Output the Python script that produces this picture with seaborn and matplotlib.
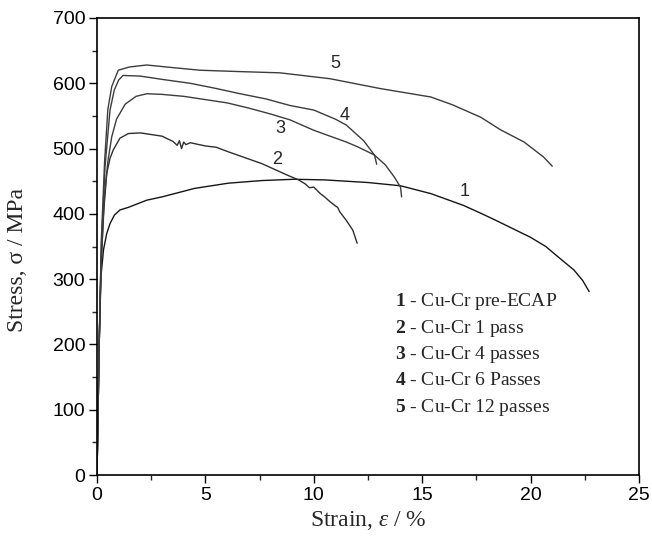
import numpy as np
import pandas as pd
import matplotlib
matplotlib.use("Agg")
import matplotlib.pyplot as plt
import seaborn as sns

# ---- data ----
strain_1 = [0, 0.1, 0.17, 0.3, 0.45, 0.6, 0.8, 1.06, 1.45, 2.3, 3.0, 4.5, 6.06, 7.6, 9.1,
            10.5, 11.5, 12.5, 14.0, 15.4, 16.9, 17.7, 18.4, 19.2, 20.0, 20.7, 21.2, 22.0, 22.4, 22.7]
stress_1 = [0, 200, 300, 345, 370, 385, 398, 406, 410, 421, 426, 439, 447, 451, 453,
            452, 450, 448, 443, 431, 413, 401, 390, 377, 364, 350, 336, 314, 298, 281]

strain_2 = [0, 0.1, 0.2, 0.3, 0.45, 0.6, 0.75, 1.06, 1.45, 2.0, 3.0, 3.5, 3.7, 3.8, 3.9, 4.0,
            4.1, 4.3, 5.0, 5.5, 6.06, 7.0, 7.6, 8.2, 8.8, 9.3, 9.6, 9.8, 10.0, 10.3, 10.5,
            10.7, 11.0, 11.1, 11.2, 11.5, 11.8, 12.0]
stress_2 = [0, 200, 330, 400, 462, 485, 498, 516, 523, 524, 519, 511, 505, 512, 500, 510,
            506, 509, 504, 502, 495, 484, 477, 468, 459, 452, 446, 440, 441, 431, 426,
            420, 412, 410, 403, 390, 375, 355]

strain_3 = [0, 0.1, 0.2, 0.35, 0.5, 0.68, 0.9, 1.3, 1.8, 2.3, 3.0, 4.0, 5.0, 6.0, 7.0, 8.0,
            8.9, 10.0, 11.0, 11.5, 12.0, 12.5, 12.8, 12.9]
stress_3 = [0, 200, 330, 430, 480, 518, 545, 568, 580, 584, 583, 580, 575, 570, 562, 553,
            544, 528, 516, 510, 503, 495, 490, 476]

strain_4 = [0, 0.1, 0.2, 0.37, 0.6, 0.8, 1.0, 1.2, 2.0, 3.0, 4.3, 5.5, 6.6, 7.8, 8.9, 10.0,
            11.0, 11.5, 12.3, 12.8, 13.3, 13.7, 14.0, 14.05]
stress_4 = [0, 200, 350, 472, 559, 590, 605, 612, 611, 606, 600, 592, 584, 576, 566, 559,
            545, 536, 512, 490, 475, 457, 441, 426]

strain_5 = [0, 0.1, 0.2, 0.35, 0.5, 0.68, 0.98, 1.5, 2.29, 3.5, 4.75, 6.5, 8.44, 10.75,
            13.05, 15.4, 16.4, 17.7, 18.6, 19.7, 20.6, 21.0]
stress_5 = [0, 200, 360, 480, 560, 595, 620, 625, 628, 624, 620, 618, 616, 607,
            592, 579, 567, 548, 529, 510, 487, 473]

curve_ids = ["1", "2", "3", "4", "5"]
curve_names = ["Cu-Cr pre-ECAP", "Cu-Cr 1 pass", "Cu-Cr 4 passes", "Cu-Cr 6 Passes", "Cu-Cr 12 passes"]
label_x = [16.97, 8.29, 8.47, 11.4, 11.0]
label_y = [434, 484, 531, 550, 630]

x_ticks = [0, 5, 10, 15, 20, 25]
y_ticks = [0, 100, 200, 300, 400, 500, 600, 700]

# ---- styling ----
sns.set_theme(style="ticks")
plt.rcParams["font.family"] = ["Liberation Sans", "DejaVu Sans"]
plt.rcParams["mathtext.fontset"] = "custom"
plt.rcParams["mathtext.rm"] = "Liberation Serif"
plt.rcParams["mathtext.it"] = "Liberation Serif:italic"
plt.rcParams["mathtext.bf"] = "Liberation Serif:bold"

fig = plt.figure(figsize=(6.52, 5.43), dpi=100)
ax = fig.add_axes([97 / 652, 1 - 475 / 543, (639 - 97) / 652, (475 - 18) / 543])

frames = []
for cid, sx, sy in zip(curve_ids,
                       [strain_1, strain_2, strain_3, strain_4, strain_5],
                       [stress_1, stress_2, stress_3, stress_4, stress_5]):
    frames.append(pd.DataFrame({"strain": sx, "stress": sy, "curve": cid}))
df = pd.concat(frames, ignore_index=True)

colors = {"1": "#151515", "2": "#2e2e2e", "3": "#3c3c3c", "4": "#3c3c3c", "5": "#3c3c3c"}
sns.lineplot(data=df, x="strain", y="stress", hue="curve", palette=colors,
             units="curve", estimator=None, sort=False, linewidth=1.0,
             legend=False, ax=ax)

ax.set_xlim(0, 25)
ax.set_ylim(0, 700)
ax.set_xticks(x_ticks)
ax.set_yticks(y_ticks)
ax.set_xticks(np.arange(0, 25.01, 2.5), minor=True)
ax.set_yticks(np.arange(0, 701, 50), minor=True)
ax.tick_params(axis="both", which="major", direction="out", length=5.5, width=1.0,
               labelsize=14, colors="black", pad=3)
ax.tick_params(axis="both", which="minor", direction="out", length=3.5, width=1.0)
ax.tick_params(top=False, right=False, which="both")
for sp in ax.spines.values():
    sp.set_visible(True)
    sp.set_linewidth(1.2)
    sp.set_color("black")

ax.set_xlabel(r"Strain, $\varepsilon$ / %", family=["Liberation Serif"], fontsize=17)
ax.set_ylabel(r"Stress, σ / MPa", family=["Liberation Serif"], fontsize=17)
ax.xaxis.set_label_coords(0.5, -0.075)
ax.yaxis.set_label_coords(-0.128, 0.47)

for cid, lx, ly in zip(curve_ids, label_x, label_y):
    ax.text(lx, ly, cid, fontsize=13, ha="center", va="center", family=["Liberation Sans"])

leg_y = [266.5, 225, 185, 144, 103]
for cid, name, yy in zip(curve_ids, curve_names, leg_y):
    ax.text(13.75, yy, r"$\mathbf{" + cid + r"}$ - " + name, fontsize=14,
            family=["Liberation Serif"], ha="left", va="center")

fig.savefig("out.png", dpi=100)
